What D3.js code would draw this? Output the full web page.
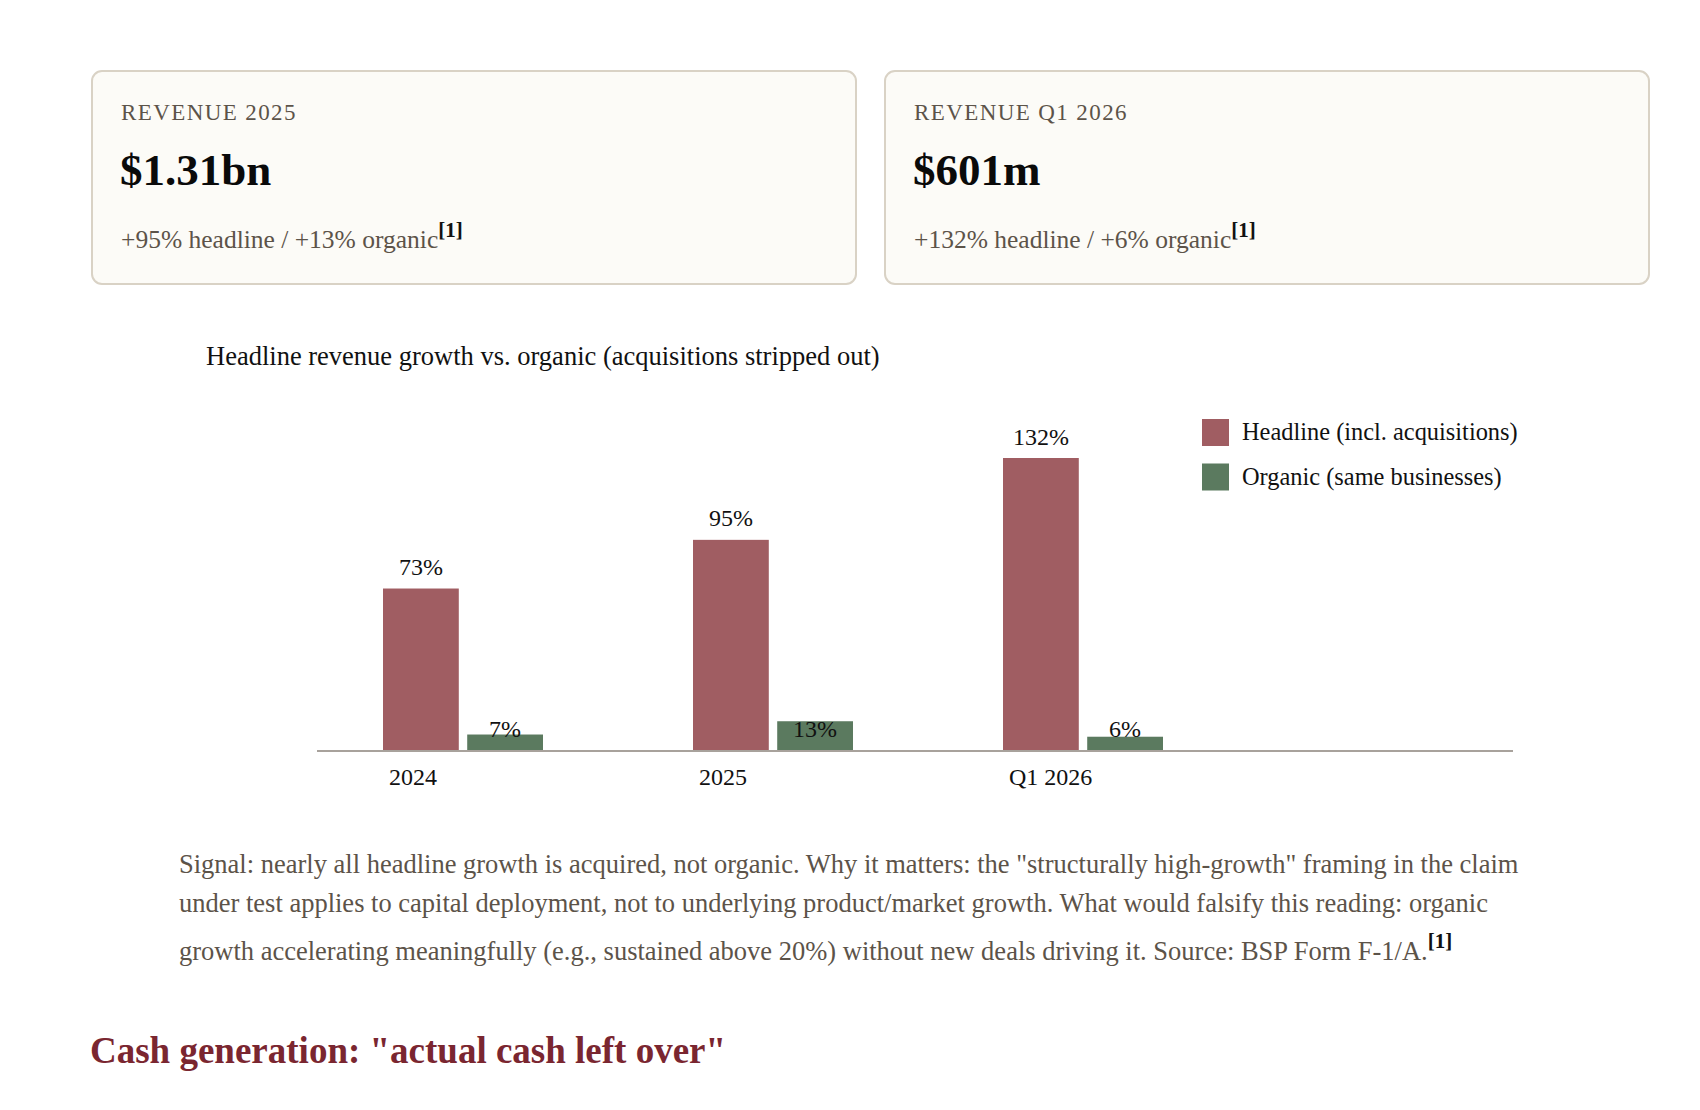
<!DOCTYPE html>
<html>
<head>
<meta charset="utf-8">
<script src="https://cdn.jsdelivr.net/npm/d3@7"></script>
<style>
  html, body { margin: 0; padding: 0; background: #fff; }
  svg { display: block; font-family: "Liberation Serif", "Times New Roman", serif; }
</style>
</head>
<body>
<svg id="stage" width="1700" height="1110"></svg>
<script>
// ---- data ----
var categories = ['2024', '2025', 'Q1 2026'];
var series = ['headline', 'organic'];
var seriesNames = ['Headline (incl. acquisitions)', 'Organic (same businesses)'];
var headline = [73, 95, 132];
var organic = [7, 13, 6];

var cardLabels = ['REVENUE 2025', 'REVENUE Q1 2026'];
var cardValues = ['$1.31bn', '$601m'];
var cardNotes = ['+95% headline / +13% organic', '+132% headline / +6% organic'];
var noteMark = '[1]';

var chartTitle = 'Headline revenue growth vs. organic (acquisitions stripped out)';
var signalLines = [
    'Signal: nearly all headline growth is acquired, not organic. Why it matters: the "structurally high-growth" framing in the claim',
    'under test applies to capital deployment, not to underlying product/market growth. What would falsify this reading: organic',
    'growth accelerating meaningfully (e.g., sustained above 20%) without new deals driving it. Source: BSP Form F-1/A.'
];
var nextHeading = 'Cash generation: "actual cash left over"';

// ---- look ----
var colors = {headline: '#a05d62', organic: '#5b7a5f'};
var muted = '#5c5349';
var svg = d3.select('#stage');

// ---- cards ----
var card = svg.selectAll('g.card')
    .data(cardLabels)
    .enter()
    .append('g')
    .attr('class', 'card')
    .attr('transform', function (d, i) { return 'translate(' + (92 + i * 793) + ',71)'; });
card.append('rect')
    .attr('width', 764)
    .attr('height', 213)
    .attr('rx', 10)
    .attr('fill', '#fcfbf7')
    .attr('stroke', '#d9d2c5')
    .attr('stroke-width', 2);
card.append('text')
    .attr('x', 29)
    .attr('y', 48.5)
    .attr('font-size', 23)
    .attr('letter-spacing', 1.4)
    .attr('fill', muted)
    .text(function (d) { return d; });
card.append('text')
    .attr('x', 28)
    .attr('y', 114)
    .attr('font-size', 45)
    .attr('font-weight', 'bold')
    .attr('fill', '#0a0a0a')
    .text(function (d, i) { return cardValues[i]; });
var note = card.append('text')
    .attr('x', 29)
    .attr('y', 176.5)
    .attr('font-size', 25.5)
    .attr('fill', muted);
note.append('tspan').text(function (d, i) { return cardNotes[i]; });
note.append('tspan')
    .attr('dy', -11)
    .attr('font-size', 21)
    .attr('font-weight', 'bold')
    .attr('fill', '#111')
    .text(noteMark);

// ---- chart ----
svg.append('text')
    .attr('x', 206)
    .attr('y', 365)
    .attr('font-size', 26.5)
    .attr('fill', '#111')
    .text(chartTitle);

var x0 = d3.scaleBand().domain(categories).range([308, 1238]);
var x1 = d3.scaleBand().domain(series).range([75, 235]).paddingInner(0.1);
var y = d3.scaleLinear().domain([0, d3.max(headline)]).range([750, 458]);

var rows = categories.map(function (c, i) {
    return {cat: c, values: [{key: 'headline', v: headline[i]}, {key: 'organic', v: organic[i]}]};
});

var groups = svg.selectAll('g.group')
    .data(rows)
    .enter()
    .append('g')
    .attr('class', 'group')
    .attr('transform', function (d) { return 'translate(' + x0(d.cat) + ',0)'; });
groups.selectAll('rect')
    .data(function (d) { return d.values; })
    .enter()
    .append('rect')
    .attr('x', function (d) { return x1(d.key); })
    .attr('y', function (d) { return y(d.v); })
    .attr('width', x1.bandwidth())
    .attr('height', function (d) { return y(0) - y(d.v); })
    .attr('fill', function (d) { return colors[d.key]; });
groups.selectAll('text.val')
    .data(function (d) { return d.values; })
    .enter()
    .append('text')
    .attr('class', 'val')
    .attr('x', function (d) { return x1(d.key) + x1.bandwidth() / 2; })
    // organic labels sit on the baseline, headline labels above the bar
    .attr('y', function (d) { return (d.key === 'headline' ? y(d.v) : y(0)) - 13.5; })
    .attr('text-anchor', 'middle')
    .attr('font-size', 24)
    .attr('fill', '#111')
    .text(function (d) { return d.v + '%'; });
groups.append('text')
    .attr('x', x1('headline') + 6)
    .attr('y', 785)
    .attr('font-size', 24)
    .attr('fill', '#111')
    .text(function (d) { return d.cat; });

svg.append('line')
    .attr('x1', 317)
    .attr('x2', 1513)
    .attr('y1', 751)
    .attr('y2', 751)
    .attr('stroke', '#a8a29c')
    .attr('stroke-width', 2);

var legend = svg.selectAll('g.legend')
    .data(series)
    .enter()
    .append('g')
    .attr('class', 'legend')
    .attr('transform', function (d, i) { return 'translate(1202,' + (419 + i * 44.5) + ')'; });
legend.append('rect')
    .attr('width', 27)
    .attr('height', 27)
    .attr('fill', function (d) { return colors[d]; });
legend.append('text')
    .attr('x', 40)
    .attr('y', 21)
    .attr('font-size', 24.4)
    .attr('fill', '#111')
    .text(function (d, i) { return seriesNames[i]; });

// ---- commentary ----
var lineY = [873, 912, 960];
var para = svg.selectAll('text.signal')
    .data(signalLines)
    .enter()
    .append('text')
    .attr('class', 'signal')
    .attr('x', 179)
    .attr('y', function (d, i) { return lineY[i]; })
    .attr('font-size', 26.5)
    .attr('fill', muted)
    .text(function (d) { return d; });
d3.select(para.nodes()[signalLines.length - 1])
    .append('tspan')
    .attr('dy', -12)
    .attr('font-size', 21)
    .attr('font-weight', 'bold')
    .attr('fill', '#111')
    .text(noteMark);

svg.append('text')
    .attr('x', 90)
    .attr('y', 1063)
    .attr('font-size', 37)
    .attr('font-weight', 'bold')
    .attr('fill', '#7a2630')
    .text(nextHeading);
</script>
</body>
</html>
